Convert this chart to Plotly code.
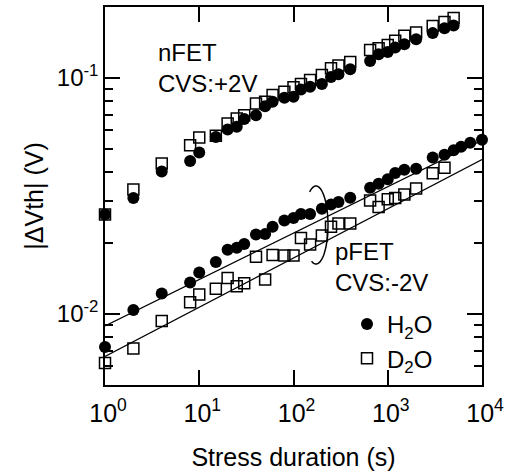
import numpy as np
import plotly.graph_objects as go

# ---------------- data ----------------
t_n = [1, 2, 4, 8, 10, 15, 20, 25, 30, 40, 50, 60, 80, 100, 120, 150, 200, 250, 300, 400,
       650, 800, 1000, 1200, 1500, 2000, 3000, 4000, 5000]
nfet_h2o = [0.0264, 0.031, 0.0402, 0.0445, 0.0483, 0.0562, 0.0605, 0.0621, 0.067, 0.0696,
            0.076, 0.0793, 0.0824, 0.0832, 0.0895, 0.0919, 0.0943, 0.101, 0.1037, 0.109,
            0.118, 0.126, 0.1288, 0.1346, 0.139, 0.146, 0.155, 0.1626, 0.167]
nfet_d2o = [0.0264, 0.0337, 0.0434, 0.0519, 0.056, 0.057, 0.0641, 0.0673, 0.0696, 0.078,
            0.0793, 0.0847, 0.0874, 0.0913, 0.0943, 0.098, 0.103, 0.110, 0.113, 0.117,
            0.1315, 0.1337, 0.138, 0.144, 0.151, 0.156, 0.166, 0.1726, 0.1795]

t_p_h2o = [1, 2, 4, 8, 10, 15, 20, 25, 30, 40, 50, 60, 80, 100, 120, 150, 200, 250, 300, 400,
           650, 800, 1000, 1200, 1500, 2000, 3000, 4000, 5000, 6000, 7500, 10000]
pfet_h2o = [0.00725, 0.0104, 0.0122, 0.0136, 0.0150, 0.0166, 0.0187, 0.0191, 0.0198, 0.0217,
            0.0218, 0.0234, 0.0249, 0.0255, 0.0265, 0.0265, 0.0279, 0.0291, 0.0298, 0.0311,
            0.0343, 0.0356, 0.0372, 0.0396, 0.0409, 0.0413, 0.046, 0.0473, 0.0494, 0.0511,
            0.0532, 0.0548]

t_p_d2o = [1, 2, 4, 8, 10, 15, 20, 25, 30, 40, 50, 60, 80, 100, 120, 150, 200, 250, 300, 400,
           650, 800, 1000, 1200, 1500, 2000, 3000, 4000]
pfet_d2o = [0.0062, 0.00714, 0.00933, 0.0112, 0.0121, 0.0128, 0.0142, 0.0131, 0.0135, 0.0175,
            0.0140, 0.0178, 0.0177, 0.0177, 0.0210, 0.0197, 0.0215, 0.0234, 0.0242, 0.0242,
            0.0303, 0.0284, 0.0306, 0.0310, 0.0321, 0.0340, 0.0395, 0.0417]

fit_t = [1, 10000]
fit_h2o = [0.0089, 0.0545]
fit_d2o = [0.0066, 0.0451]

x_tickvals = [1, 10, 100, 1000, 10000]
x_ticktext = ["10<sup>0</sup>", "10<sup>1</sup>", "10<sup>2</sup>", "10<sup>3</sup>", "10<sup>4</sup>"]
y_tickvals = [0.01, 0.1]
y_ticktext = ["10<sup>-2</sup>", "10<sup>-1</sup>"]
y_minor = [k * 10.0 ** e for e in (-3, -2, -1) for k in range(2, 10)]

FONT = "Liberation Sans, Arial, Helvetica, sans-serif"

fig = go.Figure()

sq = dict(symbol="square-open", size=11, color="black", line=dict(width=1.5, color="black"))
ci = dict(symbol="circle", size=12, color="black")

# fit lines
fig.add_trace(go.Scatter(x=fit_t, y=fit_h2o, mode="lines", line=dict(color="black", width=1.2),
                         showlegend=False, hoverinfo="skip"))
fig.add_trace(go.Scatter(x=fit_t, y=fit_d2o, mode="lines", line=dict(color="black", width=1.2),
                         showlegend=False, hoverinfo="skip"))

# D2O (squares) behind
fig.add_trace(go.Scatter(x=t_n, y=nfet_d2o, mode="markers", marker=sq, name="D<sub>2</sub>O",
                         legendrank=2, cliponaxis=False))
fig.add_trace(go.Scatter(x=t_p_d2o, y=pfet_d2o, mode="markers", marker=sq, showlegend=False,
                         cliponaxis=False))
# H2O (circles) on top
fig.add_trace(go.Scatter(x=t_n, y=nfet_h2o, mode="markers", marker=ci, name="H<sub>2</sub>O",
                         legendrank=1, cliponaxis=False))
fig.add_trace(go.Scatter(x=t_p_h2o, y=pfet_h2o, mode="markers", marker=ci, showlegend=False,
                         cliponaxis=False))

# plot-area pixel geometry
L, R, T, B = 105, 482, 7, 385
W, H = 508, 471


def px2paper(px, py):
    return (px - L) / (R - L), (B - py) / (B - T)


# ellipse bracket around the pFET data
cx, cy, rx, ry = 316, 225, 12, 39
ang = np.radians(np.linspace(122, -112, 60))
pts = [px2paper(cx + rx * np.cos(a), cy - ry * np.sin(a)) for a in ang]
path = "M " + " L ".join(f"{x:.4f},{y:.4f}" for x, y in pts)
fig.add_shape(type="path", path=path, xref="paper", yref="paper",
              line=dict(color="black", width=1.5))

ax_common = dict(showline=True, linecolor="black", linewidth=1.5, mirror="ticks",
                 ticks="inside", ticklen=15, tickwidth=1.5, tickcolor="black",
                 showgrid=False, zeroline=False, automargin=False)

fig.update_xaxes(type="log", range=[0, 4], tickvals=x_tickvals, ticktext=x_ticktext,
                 ticklabelstandoff=5, ticklabelshift=3,
                 tickfont=dict(family=FONT, size=25, color="black"),
                 title=dict(text="Stress duration (s)", font=dict(family=FONT, size=25, color="black"),
                            standoff=24),
                 **ax_common)
fig.update_yaxes(type="log", range=[np.log10(0.005), np.log10(0.2)], tickvals=y_tickvals,
                 ticktext=y_ticktext,
                 tickfont=dict(family=FONT, size=24, color="black"),
                 minor=dict(tickvals=y_minor, ticks="inside", ticklen=8, tickwidth=1.5,
                            tickcolor="black", showgrid=False),
                 title=dict(text="|ΔVth| (V)", font=dict(family=FONT, size=25, color="black"),
                            standoff=6),
                 **ax_common)

ax0, ay0 = px2paper(156, 37)
fig.add_annotation(text="nFET<br>CVS:+2V", x=ax0, y=ay0, xref="paper", yref="paper",
                   xanchor="left", yanchor="top", align="left", showarrow=False,
                   font=dict(family=FONT, size=24, color="black"))
ax1, ay1 = px2paper(333, 236)
fig.add_annotation(text="pFET<br>CVS:-2V", x=ax1, y=ay1, xref="paper", yref="paper",
                   xanchor="left", yanchor="top", align="left", showarrow=False,
                   font=dict(family=FONT, size=24, color="black"))

lx, ly = px2paper(347, 302)
fig.update_layout(
    width=W, height=H,
    margin=dict(l=L, r=W - R, t=T, b=H - B),
    paper_bgcolor="white", plot_bgcolor="white",
    font=dict(family=FONT, size=24, color="black"),
    showlegend=True,
    legend=dict(x=lx, y=ly, xanchor="left", yanchor="top", bgcolor="rgba(0,0,0,0)",
                font=dict(family=FONT, size=24, color="black"), tracegroupgap=0),
)

fig.write_html("out.html", config={"displayModeBar": False},
               post_script="document.body.style.margin='0';")
